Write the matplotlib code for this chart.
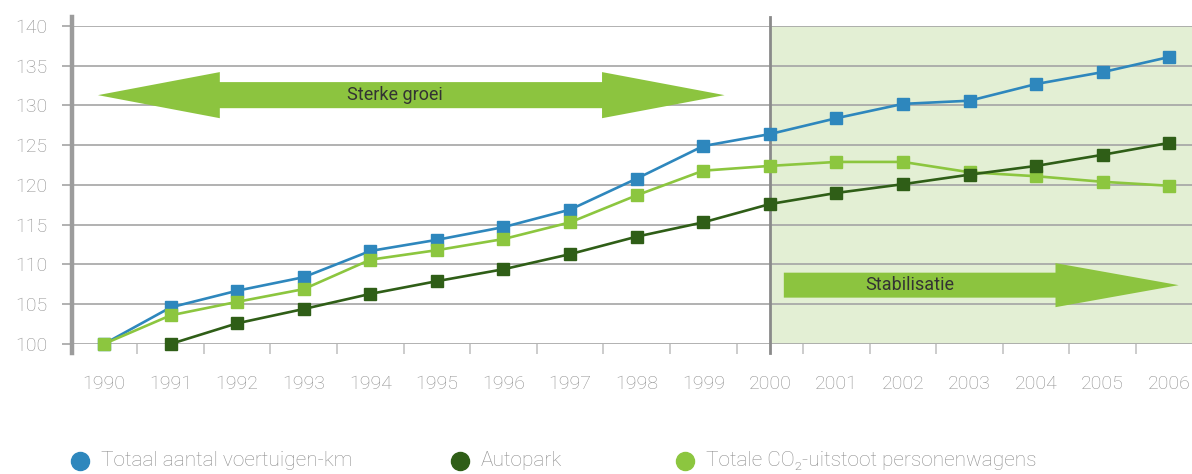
import numpy as np
import matplotlib
matplotlib.use("Agg")
import matplotlib.pyplot as plt
from matplotlib.patches import Polygon
from matplotlib.lines import Line2D

plt.rcParams['font.family'] = ['Roboto', 'DejaVu Sans']

years = list(range(1990, 2007))
voertuigen_km = [100, 104.6, 106.7, 108.4, 111.7, 113.1, 114.7, 116.9, 120.8,
                 124.9, 126.4, 128.4, 130.2, 130.6, 132.7, 134.2, 136.1]
autopark = [np.nan, 100, 102.6, 104.4, 106.3, 107.9, 109.4, 111.3, 113.5,
            115.3, 117.6, 119.0, 120.1, 121.3, 122.4, 123.8, 125.3]
co2_uitstoot = [100, 103.6, 105.3, 106.9, 110.6, 111.8, 113.2, 115.3, 118.7,
                121.8, 122.4, 122.9, 122.9, 121.6, 121.1, 120.4, 119.9]
labels = ['Totaal aantal voertuigen-km', 'Autopark',
          'Totale CO\u2082-uitstoot personenwagens']

BLUE = '#2e87bd'
DARK = '#2f5e17'
LIGHT = '#8cc63f'
ARROW = '#8cc43f'
SHADE = '#e3efd4'
GRID = '#a4a4a4'
TXT = '#8e8e8e'

W, H = 1192, 474
fig = plt.figure(figsize=(W / 100, H / 100), dpi=100)
ax = fig.add_axes([0.0604, 0.2743, 0.9396, 0.6709])
x = np.arange(len(years))
xmin, xmax = -0.48, 16.34
ax.set_xlim(xmin, xmax)
ax.set_ylim(100, 140)

# shaded period from 2000 onwards
i2000 = years.index(2000)
ax.fill_between([i2000, xmax], 100, 140, color=SHADE, zorder=0, lw=0)

for v in range(100, 141, 5):
    ax.axhline(v, color=GRID, lw=1.2, zorder=1)

for s in ax.spines.values():
    s.set_visible(False)

# left axis bar and the 2000 divider
trans = ax.get_yaxis_transform()
ax.add_line(Line2D([0, 0], [98.9, 141.1], transform=trans, color='#9c9c9c',
                   lw=3.2, clip_on=False, zorder=3))
ax.plot([i2000, i2000], [98.9, 141.1], color='#8a8a8a', lw=2, clip_on=False, zorder=3)

# arrows
def double_arrow(xl, hl, hr, xr, yc, bh, hh):
    pts = [(xl, yc), (hl, yc + hh), (hl, yc + bh), (hr, yc + bh), (hr, yc + hh),
           (xr, yc), (hr, yc - hh), (hr, yc - bh), (hl, yc - bh), (hl, yc - hh)]
    ax.add_patch(Polygon(pts, closed=True, color=ARROW, lw=0, zorder=2))

def right_arrow(xl, hr, xr, yc, bh, hh):
    pts = [(xl, yc + bh), (hr, yc + bh), (hr, yc + hh), (xr, yc),
           (hr, yc - hh), (hr, yc - bh), (xl, yc - bh)]
    ax.add_patch(Polygon(pts, closed=True, color=ARROW, lw=0, zorder=2))

double_arrow(-0.09, 1.74, 7.48, 9.32, 131.3, 1.64, 2.9)
ax.text(4.37, 131.3, 'Sterke groei', ha='center', va='center', fontsize=13,
        color='#333333', zorder=4)
right_arrow(10.21, 14.29, 16.14, 107.4, 1.57, 2.77)
ax.text(12.1, 107.4, 'Stabilisatie', ha='center', va='center', fontsize=13,
        color='#333333', zorder=4)

for vals, c in [(voertuigen_km, BLUE), (co2_uitstoot, LIGHT), (autopark, DARK)]:
    ax.plot(x, vals, color=c, lw=1.9, marker='s', markersize=8, clip_on=False, zorder=5)

ax.set_yticks(range(100, 141, 5))
ax.tick_params(axis='y', length=7, width=1.2, color=GRID, pad=11,
               labelsize=14, labelcolor=TXT)
ax.set_xticks(x)
ax.set_xticklabels([str(y) for y in years])
ax.set_xticks(x[:-1] + 0.5, minor=True)
ax.tick_params(axis='x', which='major', length=0, pad=22, labelsize=14, labelcolor=TXT)
ax.tick_params(axis='x', which='minor', length=7, width=1.2, color='#c4c4c4')
for t in ax.get_xticklabels() + ax.get_yticklabels():
    t.set_fontweight('light')

# legend row, placed by hand to match the uneven spacing
leg_x = [80, 460, 685]
leg_y = 1 - 461 / H
for px, lab, c in zip(leg_x, labels, (BLUE, DARK, LIGHT)):
    fig.add_artist(Line2D([px / W], [leg_y], transform=fig.transFigure, ls='none',
                          marker='o', markersize=13, color=c))
    fig.text((px + 21) / W, leg_y, lab, ha='left', va='center', fontsize=15,
             color=TXT, fontweight='light')

fig.savefig('out.png', dpi=100)
